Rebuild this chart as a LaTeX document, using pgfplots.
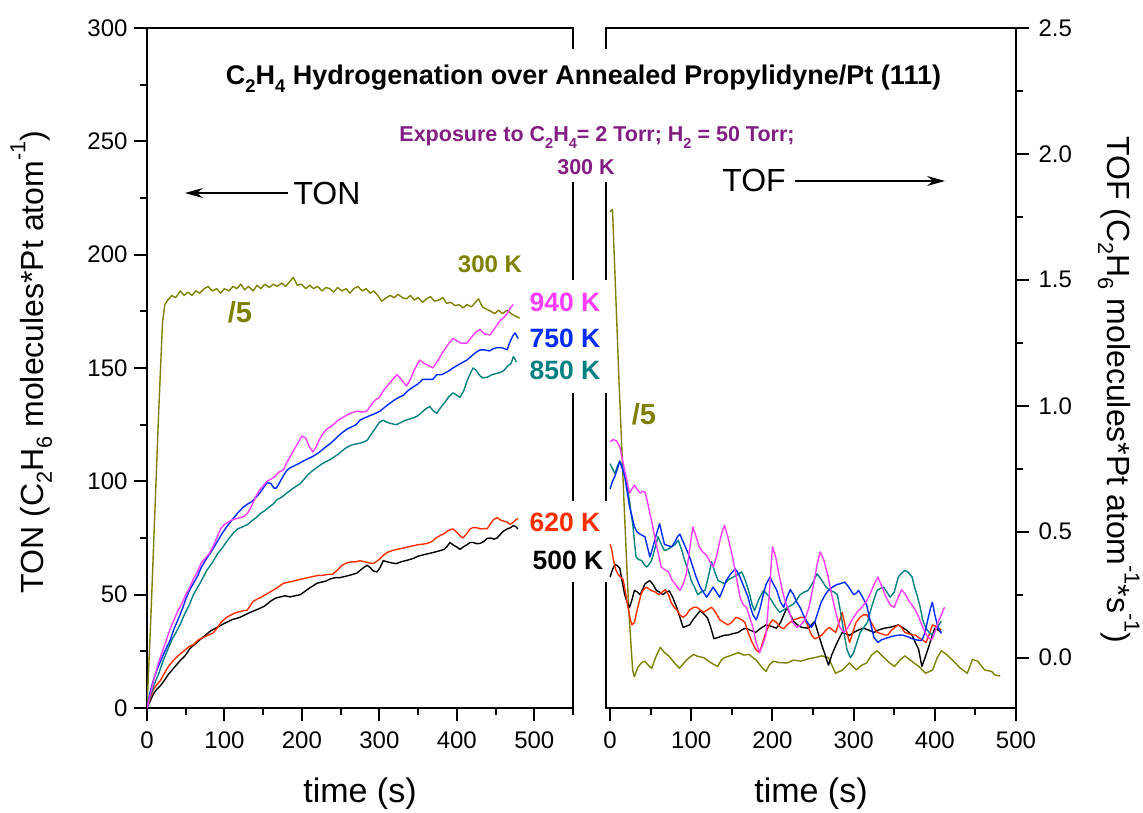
\documentclass[border=0pt]{standalone}
\usepackage{fontspec}
\setmainfont{Liberation Sans}
\usepackage{pgfplots}
\pgfplotsset{compat=1.18}
\usetikzlibrary{arrows.meta}
\definecolor{olv}{RGB}{128,128,0}
\definecolor{mag}{RGB}{255,60,255}
\definecolor{blu}{RGB}{0,43,255}
\definecolor{tea}{RGB}{0,128,128}
\definecolor{rd}{RGB}{255,45,0}
\definecolor{pur}{RGB}{130,30,130}
\newcommand{\fs}[1]{\fontsize{#1}{#1}\selectfont}
\newcommand{\sbs}[1]{\raisebox{-0.28em}{\scalebox{0.68}{#1}}}
\newcommand{\sps}[1]{\raisebox{0.55em}{\scalebox{0.68}{#1}}}

\pgfplotstableread{
t y
0 0
5 40
10 85
15 130
20 170
23 178
27 180
32 182
37 181
43 184
48 182
53 183.5
58 182
63 184
68 183
74 185
79 186
84 184
90 185
95 183
100 185
106 184
111 186
116 185
121 187
126 184.5
131 186
137 184
142 186.5
147 185
152 187
158 185.5
163 187
168 186
174 187.5
179 186
184 188
189 190
194 186.5
199 187
205 185
210 186.5
215 185
220 186
226 184
231 185.5
236 185
241 183.5
246 185.5
252 184
257 185
262 183
267 185
272 186
278 184
283 185
288 183
293 184
298 182
303 179.5
309 181
314 182
319 181
324 182.5
330 181
335 180.5
340 182
345 180
350 181
356 179
361 180.5
366 181.5
371 179.5
377 180
382 181
387 178.5
392 179
398 177.5
403 178
408 176.5
413 178
419 177
424 179
428 180.5
433 177
438 176
444 175
449 174
454 175.5
459 174
465 175.5
470 174
475 173
481 172
}\tonA

\pgfplotstableread{
t y
0 0
5 7
10 14
15 20
20 25
25 30
30 35
35 39
40 43
45 46
50 50
55 53
60 57
65 60
70 64
75 66
80 68
85 71
90 75
95 79
100 81
105 82
110 83
115 83.5
120 84
125 84.5
130 86
135 89
140 93
145 96
150 98
155 100
160 101
165 102
170 104
176 105
180 108
185 111
190 114
195 117
200 120
205 119
210 115
214 113
218 115
222 118
227 121
232 123
237 124
242 125.5
247 127
252 128
257 129
262 130
267 130.5
272 131
277 130.5
284 131
290 134
295 136
300 137
305 140
310 142
315 144
320 146
323 147
328 145
335 142
340 145
345 149
352 153.5
358 152
364 151
369 150
375 153
380 156
386 159
390 161
395 163
400 162
405 161
413 161
420 164
425 166
430 167
436 165
443 164.6
448 167
452 169
456 171
460 172
465 174
469 176.5
473 178
}\tonM

\pgfplotstableread{
t y
0 0
4 7
8 12
13 17
18 21
23 25
30 30
35 35
40 39
46 44
50 48
55 52
60 55
65 58
70 62
77 66
83 69
90 73
97 77
103 80
110 83
117 86
124 88.5
130 90
135 91
141 93
146 95
150 97
155 99.5
160 99
164 97
167 97
172 100
177 103
181 105
185 106
191 107
197 108
202 109
208 110
214 111
219 112
223 113
230 115
236 116.5
241 118
247 120
252 121.5
258 123
264 124
270 125
275 127
281 128
288 129
295 130
301 131
308 133
314 134.5
320 136
325 137
331 138
337 140
343 141.5
350 143
356 145
362 145
369 145
374 147
380 147
386 148
391 149
395 150
400 151
405 152
413 153.5
418 155
425 157
430 158
436 158
442 157.5
447 158.5
452 159
457 159
462 158.5
465 158
468 161
472 164
475 165.5
477 164.5
479 163
}\tonB

\pgfplotstableread{
t y
0 0
5 6
10 11
15 15
21 21
27 26
32 30
37 33
43 37
48 41
54 45
60 50
65 53
70 56
77 60.6
84 64
91 68
98 71
104 74
111 77
117 79
124 80
130 81
135 82.5
141 84
147 86
152 87
157 88.5
163 90
168 92
174 93
180 94.7
185 96
191 97.5
198 99
203 101
208 103
213 104.5
219 106
225 107.5
230 108.5
236 109.5
241 110.6
247 112
252 113.5
258 115
264 116
270 116.5
277 117
284 118
290 121
296 124
300 126
305 127
310 126
315 125.5
322 125
328 126
334 127
339 127.5
344 128
350 129
355 130.5
360 132
365 133
370 131
374 130
380 133
385 135
390 137.5
395 139
400 138
404 137
409 140
414 145
418 148
421 150
425 149
430 146.5
434 145.6
440 146
445 147
450 147.5
456 148
461 149
466 151
470 152
473 155
475 154
477 152.6
}\tonT

\pgfplotstableread{
t y
0 0
4 4
8 8
12 10
17 12
22 15
27 18
34 21
40 23
47 25
54 27
60 28
66 30
72 31
78 32
85 33
90 35
96 38
103 40
108 41
114 42
120 42.5
125 43
129 43
133 45
137 47
142 48
148 49
153 50
158 51
163 52
170 53.5
176 55
182 55.5
189 56
195 56.5
201 57
208 57.5
214 58
221 58.5
227 58.5
234 59
240 59
246 61
252 63
258 64
264 64.5
270 64.5
275 65
281 64.5
287 64
292 63.7
298 65
304 67
310 68.6
317 69.5
323 70
330 70.5
336 71
343 71.5
349 72
356 72.3
362 72.6
368 73.5
373 75
378 76
384 77
390 78.5
395 79
400 77.5
404 76
408 75
413 77
417 79
421 79.6
426 79.5
431 79
436 79.2
439 79
443 81
447 83
452 84
456 83
460 82.5
465 82
469 81
473 82
476 83
479 83.6
}\tonR

\pgfplotstableread{
t y
0 0
4 3
8 6
12 8
17 9.7
22 12
28 15
33 17
38 19
43 21
49 23
55 26
61 28
68 30
75 32
82 34
90 35.5
98 37
104 38
110 39
115 39.5
120 40
126 41
132 42
139 43
146 44
152 45
159 47
166 48.5
172 49
178 49.5
185 49
191 49.5
198 50
204 51.5
210 53
215 54
219 55
225 55.5
231 56
237 57
243 57.5
249 57.5
255 58
261 58.5
266 59
271 59.5
276 61
280 62
284 63
288 62
292 60.5
297 60
301 62
305 65
310 64.5
316 64
322 63.7
328 64.5
334 65
339 65.5
344 66
350 67
356 67.5
362 68
368 68.5
374 69
379 69.5
384 70
388 71.5
391 73
395 72
400 71
404 70
408 71
413 72
417 73
421 73
426 72.5
430 72.6
435 73.5
439 74.8
444 75
448 74.5
452 75
456 76.5
460 78
465 79
469 79.5
473 80.5
476 80
479 79
}\tonK

\pgfplotstableread{
t y
0 1.77
3 1.78
11 1.10
17 0.63
23 0.19
27.8 -0.049
29.9 -0.076
34 -0.04
38.4 -0.021
42.7 -0.014
47 -0.03
51.3 -0.042
56 0.00
61.9 0.041
67 0.02
72.6 0.006
79 -0.02
85.4 -0.042
94 -0.01
102.5 0.013
108 0.005
115.3 0.0
124 -0.02
132.4 -0.035
137 -0.01
141 0.0
150 0.01
158 0.02
165 0.01
171 0.013
180 -0.01
188 -0.042
192.2 -0.055
196 -0.03
200.8 -0.014
209 -0.02
217.9 -0.021
226 -0.01
235 -0.014
244 -0.005
252 0.0
260.6 0.007
269 0.0
277.7 -0.062
286.2 -0.049
294.8 -0.021
303.3 -0.049
310 -0.03
316.1 -0.021
322 0.01
329 0.027
337.5 0.0
344 -0.02
350.3 -0.035
357 -0.01
363 0.007
371.6 -0.014
380.2 -0.035
388.7 -0.062
397.3 -0.049
403 0.0
408 0.027
414.4 0.013
423 -0.014
431.5 -0.042
440 -0.062
446.4 -0.007
452.8 -0.014
461.4 -0.049
470 -0.055
474 -0.069
480.6 -0.073
}\tofA

\pgfplotstableread{
t y
0 0.857
4 0.866
8 0.86
12 0.837
15 0.79
18 0.744
21 0.70
24 0.653
27 0.67
30 0.685
33 0.67
37 0.653
40 0.66
43 0.658
46 0.62
49 0.573
52 0.53
55 0.479
59 0.42
63 0.36
67 0.35
72 0.34
76 0.31
80 0.293
83 0.28
86 0.267
90 0.29
94 0.333
98 0.43
102 0.519
106 0.48
110 0.439
114 0.42
119 0.406
123 0.38
127 0.36
131 0.40
135 0.46
138 0.50
141 0.525
145 0.48
150 0.413
155 0.33
160 0.24
164 0.21
168 0.20
172 0.16
176 0.12
180 0.06
184 0.02
188 0.05
192 0.09
196 0.25
200 0.44
204 0.40
208 0.33
212 0.27
216 0.22
220 0.19
225 0.14
230 0.12
235 0.13
240 0.15
245 0.20
250 0.28
255 0.37
259 0.42
263 0.39
268 0.33
273 0.25
278 0.18
283 0.12
288 0.10
293 0.12
298 0.15
304 0.18
310 0.20
315 0.22
320 0.25
325 0.29
330 0.32
335 0.28
340 0.24
345 0.21
350 0.20
355 0.24
359 0.27
364 0.25
369 0.22
374 0.20
379 0.17
384 0.13
388 0.10
392 0.08
396 0.07
400 0.10
404 0.14
408 0.17
412 0.20
}\tofM

\pgfplotstableread{
t y
0 0.67
3 0.70
6 0.72
9 0.75
12 0.78
15 0.75
18 0.72
21 0.66
24 0.60
27 0.56
30 0.52
33 0.50
37 0.49
40 0.485
43 0.48
46 0.44
49 0.40
52 0.43
55 0.466
58 0.50
61 0.532
64 0.49
67 0.45
71 0.445
76 0.44
80 0.46
83 0.48
86 0.49
90 0.46
94 0.43
98 0.40
102 0.36
106 0.32
111 0.28
115 0.26
119 0.24
123 0.26
127 0.28
131 0.26
135 0.24
139 0.27
143 0.306
148 0.33
154 0.353
157 0.34
160 0.32
165 0.28
170 0.24
173 0.20
176 0.17
180 0.15
184 0.186
188 0.24
192 0.29
197 0.32
201 0.293
205 0.27
210 0.22
214 0.20
218 0.24
222 0.27
226 0.25
230 0.22
234 0.20
238 0.17
243 0.14
248 0.12
252 0.14
256 0.18
260 0.22
265 0.25
269 0.267
274 0.28
279 0.29
283 0.293
289 0.30
294 0.28
300 0.25
303 0.255
306 0.267
311 0.24
316 0.21
320 0.15
325 0.08
330 0.06
334 0.07
338 0.075
343 0.08
348 0.085
355 0.089
360 0.09
365 0.085
372 0.075
378 0.07
384 0.068
388 0.10
392 0.16
395 0.20
397 0.22
400 0.17
404 0.12
408 0.096
}\tofB

\pgfplotstableread{
t y
0 0.77
3 0.75
6 0.73
9 0.76
12 0.78
15 0.76
18 0.73
21 0.68
24 0.62
26 0.57
28 0.53
30 0.46
32 0.40
35 0.39
39 0.385
42 0.37
45 0.36
48 0.37
51 0.385
55 0.43
59 0.48
63 0.45
67 0.425
71 0.43
76 0.44
80 0.45
84 0.466
88 0.43
92 0.385
96 0.35
100 0.306
104 0.28
108 0.25
112 0.26
117 0.267
121 0.32
125 0.38
129 0.34
133 0.306
137 0.30
141 0.293
146 0.31
152 0.32
157 0.33
162 0.34
165 0.32
168 0.293
172 0.25
175 0.21
178 0.187
183 0.23
189 0.267
194 0.25
199 0.227
204 0.20
209 0.18
214 0.19
219 0.20
226 0.213
230 0.23
234 0.25
239 0.26
244 0.267
250 0.30
255 0.333
258 0.32
261 0.306
266 0.28
271 0.267
276 0.26
280 0.25
284 0.18
288 0.10
292 0.03
296 0.00
300 0.02
304 0.06
308 0.10
312 0.117
317 0.14
322 0.20
326 0.24
329 0.267
333 0.275
337 0.28
341 0.26
345 0.24
350 0.26
355 0.32
359 0.335
363 0.346
367 0.34
372 0.32
375 0.28
378 0.25
382 0.20
385 0.15
389 0.117
393 0.10
397 0.09
401 0.11
405 0.13
408 0.144
}\tofT

\pgfplotstableread{
t y
0 0.45
2 0.43
4 0.39
7 0.35
10 0.33
13 0.32
16 0.31
19 0.26
22 0.20
25 0.15
27 0.13
30 0.14
32 0.17
35 0.21
38 0.25
41 0.27
45 0.28
49 0.27
52 0.265
56 0.26
60 0.25
64 0.26
68 0.27
72 0.25
75 0.22
79 0.20
82 0.19
86 0.17
90 0.16
94 0.17
98 0.19
103 0.20
107 0.20
111 0.19
115 0.18
120 0.19
125 0.20
130 0.18
135 0.15
140 0.14
145 0.13
150 0.14
155 0.16
160 0.155
166 0.14
170 0.10
175 0.06
180 0.03
184 0.02
188 0.06
192 0.10
196 0.13
200 0.15
205 0.14
210 0.12
214 0.115
218 0.13
222 0.14
226 0.15
231 0.155
235 0.16
239 0.16
243 0.13
248 0.09
252 0.075
256 0.08
261 0.09
266 0.11
270 0.12
274 0.11
278 0.10
282 0.14
286 0.18
290 0.12
295 0.06
299 0.10
303 0.14
308 0.16
312 0.17
316 0.17
320 0.15
325 0.12
329 0.10
334 0.095
338 0.09
342 0.09
347 0.11
351 0.12
355 0.13
359 0.12
363 0.10
368 0.095
372 0.09
376 0.09
380 0.08
385 0.07
389 0.06
393 0.09
397 0.13
401 0.125
405 0.115
408 0.11
}\tofR

\pgfplotstableread{
t y
0 0.32
3 0.35
6 0.37
9 0.365
12 0.355
15 0.30
18 0.25
21 0.22
24 0.20
27 0.23
30 0.267
34 0.26
37 0.25
40 0.27
43 0.293
46 0.30
49 0.306
53 0.29
57 0.267
61 0.26
65 0.25
69 0.26
73 0.265
77 0.24
82 0.20
86 0.16
90 0.12
94 0.125
98 0.13
102 0.15
107 0.17
111 0.186
115 0.175
120 0.158
124 0.12
128 0.075
133 0.08
137 0.085
141 0.089
146 0.09
151 0.095
158 0.10
162 0.11
167 0.117
172 0.11
179 0.10
185 0.115
192 0.13
198 0.125
205 0.117
210 0.14
214 0.17
218 0.20
222 0.17
226 0.144
231 0.13
236 0.12
244 0.117
248 0.13
252 0.144
256 0.10
261 0.048
265 0.01
269 -0.03
273 0.01
278 0.048
282 0.075
286 0.10
290 0.095
295 0.089
300 0.10
306 0.11
312 0.117
318 0.11
325 0.10
331 0.11
338 0.117
344 0.12
350 0.125
355 0.13
360 0.12
365 0.11
372 0.089
376 0.06
380 0.034
384 -0.035
388 0.00
393 0.048
397 0.09
400 0.117
404 0.11
408 0.10
}\tofK

\pgfplotsset{
  panel/.style={
    scale only axis, height=680pt,
    axis line style={-, line width=2pt},
    tick align=outside, major tick length=13pt, minor tick length=7pt,
    every tick/.style={black, line width=2pt},
    tick label style={font=\fs{24}},
    /pgf/number format/assume math mode=true,
    xtick={0,100,...,500},
    xticklabel style={yshift=-7pt},
    no marks,
    every axis plot/.append style={line width=1.4pt, line join=round},
  }
}

\begin{document}
\begin{tikzpicture}[x=1pt,y=1pt]
\useasboundingbox (0,0) rectangle (1143,812);

\begin{axis}[panel, at={(147pt,104pt)}, anchor=south west, width=426pt,
  xmin=0, xmax=550, ymin=0, ymax=300,
  axis x line*=bottom, axis y line*=left,
  minor xtick={50,150,...,550},
  ytick={0,50,...,300}, minor ytick={25,75,...,275},
  yticklabel style={xshift=-3pt}]
\addplot[olv] table[x=t,y=y]{\tonA};
\addplot[black] table[x=t,y=y]{\tonK};
\addplot[rd] table[x=t,y=y]{\tonR};
\addplot[tea] table[x=t,y=y]{\tonT};
\addplot[blu] table[x=t,y=y]{\tonB};
\addplot[mag] table[x=t,y=y]{\tonM};
\end{axis}

\begin{axis}[panel, at={(606pt,104pt)}, anchor=south west, width=410pt,
  xmin=-5, xmax=500, ymin=-0.2, ymax=2.5,
  axis x line*=bottom, axis y line*=right,
  minor xtick={50,150,...,450},
  ytick={0,0.5,...,2.5}, minor ytick={0.25,0.75,...,2.25},
  yticklabel style={xshift=6pt, /pgf/number format/.cd, fixed, fixed zerofill, precision=1}]
\addplot[olv] table[x=t,y=y]{\tofA};
\addplot[black] table[x=t,y=y]{\tofK};
\addplot[rd] table[x=t,y=y]{\tofR};
\addplot[tea] table[x=t,y=y]{\tofT};
\addplot[blu] table[x=t,y=y]{\tofB};
\addplot[mag] table[x=t,y=y]{\tofM};
\end{axis}

% frame pieces (broken inner spines)
\begin{scope}[line width=2pt, line cap=rect]
\draw (147,784) -- (573,784) -- (573,764);
\draw (573,629) -- (573,533);
\draw (573,418) -- (573,312);
\draw (573,229) -- (573,104);
\draw (1016,784) -- (606,784) -- (606,764);
\draw (606,629) -- (606,533);
\draw (606,418) -- (606,312);
\draw (606,229) -- (606,104);
\end{scope}

% axis labels
\node[rotate=90, anchor=base, font=\fs{32}] at (43,450)
  {TON (C\sbs{2}H\sbs{6} molecules*Pt atom\sps{-1})};
\node[rotate=-90, anchor=base, font=\fs{32}] at (1107,422)
  {TOF (C\sbs{2}H\sbs{6} molecules*Pt atom\sps{-1}*s\sps{-1})};
\node[anchor=base, font=\fs{34}] at (360,10) {time (s)};
\node[anchor=base, font=\fs{34}] at (811,10) {time (s)};

% titles
\node[anchor=base, font=\fs{27}\bfseries] at (583.5,727)
  {C\sbs{2}H\sbs{4} Hydrogenation over Annealed Propylidyne/Pt (111)};
\node[anchor=base, font=\fs{21.5}\bfseries, text=pur] at (597,670)
  {Exposure to C\sbs{2}H\sbs{4}= 2 Torr; H\sbs{2} = 50 Torr;};
\node[anchor=base, font=\fs{21.5}\bfseries, text=pur] at (586,637) {300 K};

% TON / TOF arrows
\node[anchor=base, font=\fs{32}] at (327,607) {TON};
\draw[line width=1.5pt, -{Stealth[length=18pt,width=10pt]}] (288,619) -- (185,619);
\node[anchor=base, font=\fs{32}] at (754,620) {TOF};
\draw[line width=1.5pt, -{Stealth[length=18pt,width=10pt]}] (795,631) -- (945,631);

% series labels
\node[anchor=base, font=\fs{24}\bfseries, text=olv] at (490,539) {300 K};
\node[anchor=base, font=\fs{29}\bfseries, text=olv] at (240,489) {/5};
\node[anchor=base, font=\fs{29}\bfseries, text=olv] at (644,387) {/5};
\node[anchor=base, font=\fs{26.5}\bfseries, text=mag] at (565,500) {940 K};
\node[anchor=base, font=\fs{26.5}\bfseries, text=blu] at (565,464) {750 K};
\node[anchor=base, font=\fs{26.5}\bfseries, text=tea] at (565,432) {850 K};
\node[anchor=base, font=\fs{26.5}\bfseries, text=rd] at (565,280) {620 K};
\node[anchor=base, font=\fs{26.5}\bfseries, text=black] at (568,243) {500 K};
\end{tikzpicture}
\end{document}
